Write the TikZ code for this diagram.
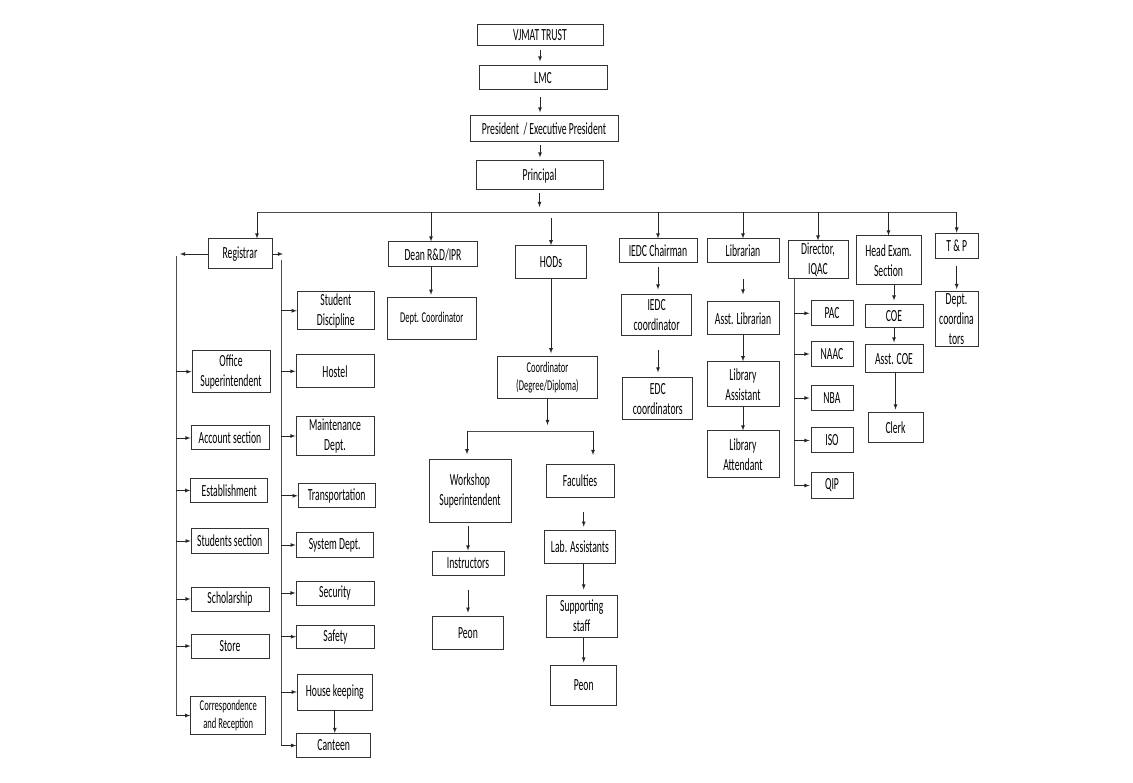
\documentclass[tikz,border=0pt]{standalone}
\usepackage{fontspec}
\setmainfont{Carlito}[FakeStretch=0.57]
\usepackage{tikz}
\usetikzlibrary{calc, shapes, arrows}

\begin{document}
\begin{tikzpicture}[x=1pt,y=-1pt]
\tikzstyle{box}=[draw=black!80,line width=1pt,align=center,inner sep=1pt,font=\fontsize{17}{20}\selectfont]
\tikzstyle{small}=[font=\fontsize{15}{17.5}\selectfont]
\tikzstyle{sz}=[minimum width=#1pt]
\tikzstyle{ht}=[minimum height=#1pt]
\tikzstyle{arr}=[-latex,draw=black!85,line width=0.8pt]
\tikzstyle{ln}=[draw=black!70,line width=0.8pt]
\useasboundingbox (0,0) rectangle (1133,783);
% top of the chart
\node[box,sz=126,ht=21] (trust) at (540,35.5) {VJMAT TRUST};
\node[box,sz=128,ht=24] (lmc) at (543,78) {LMC};
\node[box,sz=148,ht=26] (pres) at (544,129) {President \ / Executive President};
\node[box,sz=127,ht=29] (princ) at (539.5,175.5) {Principal};
\coordinate (busL) at (257,212);
\coordinate (busR) at (957,212);
% second row
\node[box,sz=64,ht=30] (reg) at (240,254) {Registrar};
\node[box,sz=89,ht=25] (dean) at (433,254.5) {Dean R\&D/IPR};
\node[box,sz=71,ht=33] (hods) at (551,262.3) {HODs};
\node[box,sz=78,ht=24] (iedc) at (658,251) {IEDC Chairman};
\node[box,sz=72,ht=24] (lib) at (743,251) {Librarian};
\node[box,sz=60,ht=38] (dir) at (818,260) {Director,\\IQAC};
\node[box,sz=65,ht=49] (head) at (888.5,260.5) {Head Exam.\\Section};
\node[box,sz=43,ht=25] (tp) at (956.7,245.7) {T \& P};
% registrar, left side
\node[box,sz=78,ht=42] (office) at (231,371.7) {Office\\Superintendent};
\node[box,sz=78,ht=24] (account) at (230,438) {Account section};
\node[box,sz=77,ht=24] (estab) at (229.3,490.5) {Establishment};
\node[box,sz=77,ht=25] (stud) at (229.7,541) {Students section};
\node[box,sz=78,ht=24] (schol) at (230,599) {Scholarship};
\node[box,sz=78,ht=24] (store) at (230,646) {Store};
\node[box,small,sz=75,ht=38] (corr) at (228.3,715.5) {Correspondence\\and Reception};
% registrar, right side
\node[box,sz=77,ht=38] (disc) at (335.8,310.8) {Student\\Discipline};
\node[box,sz=78,ht=33] (hostel) at (335,371.3) {Hostel};
\node[box,sz=78,ht=39] (maint) at (335,436) {Maintenance\\Dept.};
\node[box,sz=77,ht=24] (trans) at (336.7,495.8) {Transportation};
\node[box,sz=77,ht=25] (sys) at (334.7,545) {System Dept.};
\node[box,sz=78,ht=24] (secu) at (335,593) {Security};
\node[box,sz=78,ht=23] (safe) at (335.5,636.7) {Safety};
\node[box,sz=75,ht=36] (house) at (334.8,692) {House keeping};
\node[box,sz=74,ht=24] (cant) at (333.7,745.5) {Canteen};
% dean and hods
\node[box,small,sz=89,ht=42] (deptc) at (431.7,318.3) {Dept. Coordinator};
\node[box,small,sz=100,ht=42] (coord) at (547.5,377.8) {Coordinator\\(Degree/Diploma)};
\coordinate (barL) at (467,431);
\coordinate (barR) at (593,431);
\node[box,sz=82,ht=63] (work) at (470,491.3) {Workshop\\Superintendent};
\node[box,sz=72,ht=24] (instr) at (468,563) {Instructors};
\node[box,sz=71,ht=33] (peonA) at (468,632.7) {Peon};
\node[box,sz=68,ht=33] (fac) at (580,481) {Faculties};
\node[box,sz=71,ht=33] (lab) at (580,546.7) {Lab. Assistants};
\node[box,sz=71,ht=42] (supp) at (581.7,616) {Supporting\\staff};
\node[box,sz=66,ht=40] (peonB) at (583.7,685) {Peon};
% iedc and library
\node[box,sz=70,ht=41] (iedcc) at (656.7,315.5) {IEDC\\coordinator};
\node[box,sz=70,ht=42] (edc) at (657.8,399) {EDC\\coordinators};
\node[box,sz=72,ht=33] (asstlib) at (743,318.5) {Asst. Librarian};
\node[box,sz=72,ht=45] (libas) at (743,384.3) {Library\\Assistant};
\node[box,sz=72,ht=47] (libat) at (743,454.5) {Library\\Attendant};
% iqac, exam, t&p
\coordinate (dirL) at (794,279);
\node[box,sz=42,ht=25] (pac) at (832,313.3) {PAC};
\node[box,sz=42,ht=25] (naac) at (832,354) {NAAC};
\node[box,sz=42,ht=25] (nba) at (832,398) {NBA};
\node[box,sz=42,ht=25] (iso) at (832,440.5) {ISO};
\node[box,sz=42,ht=25] (qip) at (832,485.5) {QIP};
\node[box,sz=58,ht=23] (coe) at (894,316.5) {COE};
\node[box,sz=58,ht=28] (acoe) at (894,359) {Asst. COE};
\node[box,sz=55,ht=30] (clerk) at (895.5,428) {Clerk};
\node[box,sz=43,ht=55] (tpd) at (956.5,319) {Dept.\\coordina\\tors};
% connectors
\draw[arr,shorten <=4pt,shorten >=4pt] (trust.south) -- (trust.south |- lmc.north);
\draw[arr,shorten <=7pt,shorten >=3pt] (trust.south |- lmc.south) -- (trust.south |- pres.north);
\draw[arr,shorten <=3pt,shorten >=3pt] (trust.south |- pres.south) -- (trust.south |- princ.north);
\draw[arr,shorten <=3pt,shorten >=5pt] (princ.south) -- (princ.south |- busL);
\draw[ln] (busL) -- (busR);
\draw[arr] (busL) -- (busL |- reg.north);
\draw[arr] (431,212) -- (431,212 |- dean.north);
\draw[arr,shorten <=6pt] (hods.north |- busL) -- (hods.north);
\foreach \n in {iedc,lib,dir,head,tp}
  \draw[arr] (\n.north |- busL) -- (\n.north);
% registrar
\coordinate (regL) at (176,256);
\coordinate (regR) at (281,256);
\draw[arr,shorten >=4pt] (reg.west) -- (reg.west -| regL);
\draw[arr,shorten >=-2pt] (reg.east) -- (reg.east -| regR);
\draw[ln] (regL) -- (regL |- corr.west);
\draw[ln] ([yshift=-4pt]regR) -- (regR |- cant.west);
\foreach \n in {office,account,estab,stud,schol,store,corr}
  \draw[arr] (regL |- \n.west) -- (\n.west);
\foreach \n in {disc,hostel,maint,trans,sys,secu,safe,house,cant}
  \draw[arr] (regR |- \n.west) -- (\n.west);
\draw[arr] (house.south) -- (house.south |- cant.north);
% dean, hods
\draw[arr,shorten >=2pt] (431,212 |- dean.south) -- (431,212 |- deptc.north);
\draw[arr,shorten >=3pt] (hods.south) -- (hods.south |- coord.north);
\draw[arr,shorten >=6pt] (coord.south) -- (coord.south |- barL);
\draw[ln] (barL) -- (barR);
\draw[arr,shorten >=5pt] (barL) -- (barL |- work.north);
\draw[arr,shorten >=9pt] (barR) -- (barR |- fac.north);
\draw[arr,shorten <=3pt] (instr.north |- work.south) -- (instr.north);
\draw[arr,shorten <=14pt,shorten >=3pt] (instr.south) -- (instr.south |- peonA.north);
\draw[arr,shorten <=14pt,shorten >=3pt] (peonB.north |- fac.south) -- (peonB.north |- lab.north);
\draw[arr,shorten >=5pt] (peonB.north |- lab.south) -- (peonB.north |- supp.north);
\draw[arr,shorten >=2pt] (peonB.north |- supp.south) -- (peonB.north);
% iedc, library
\draw[arr,shorten <=4pt,shorten >=5pt] (iedc.south) -- (iedc.south |- iedcc.north);
\draw[arr,shorten <=14pt,shorten >=5pt] (iedc.south |- iedcc.south) -- (iedc.south |- edc.north);
\draw[arr,shorten <=16pt,shorten >=7pt] (lib.south) -- (lib.south |- asstlib.north);
\draw[arr] (asstlib.south) -- (libas.north);
\draw[arr] (libas.south) -- (libat.north);
% iqac, exam, t&p
\draw[ln] (dirL) -- (dirL |- qip.west);
\foreach \n in {pac,naac,nba,iso,qip}
  \draw[arr,shorten >=1pt] (dirL |- \n.west) -- (\n.west);
\draw[arr,shorten >=4pt] (coe.north |- head.south) -- (coe.north);
\draw[arr,shorten >=2pt] (coe.south) -- (acoe.north);
\draw[arr,shorten >=3pt] (clerk.north |- acoe.south) -- (clerk.north);
\draw[arr,shorten <=7pt,shorten >=2pt] (tp.south) -- (tp.south |- tpd.north);
\end{tikzpicture}
\end{document}
